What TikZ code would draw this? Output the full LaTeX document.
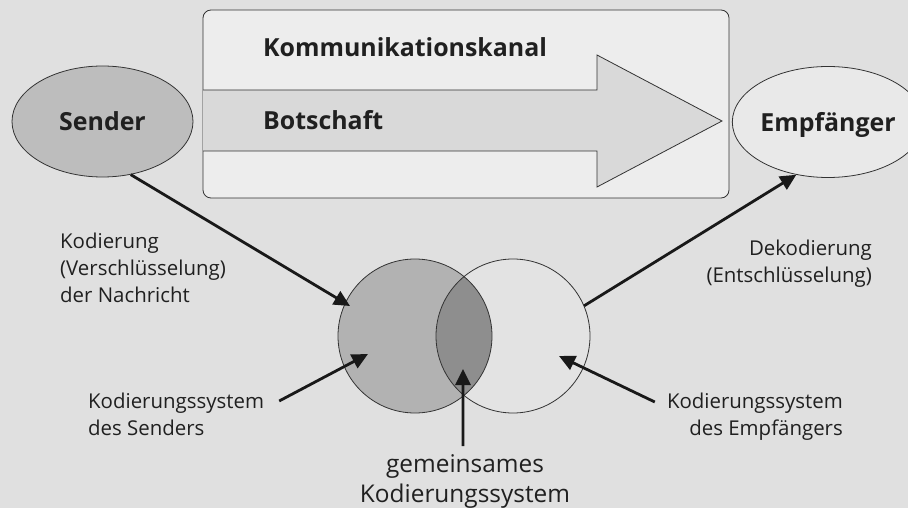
\documentclass[tikz,border=0pt]{standalone}
\usepackage{xcolor}
\usepackage{fontspec}
\setmainfont{Open Sans}
\usetikzlibrary{shapes.geometric,arrows.meta}

\definecolor{hintergrund}{RGB}{224,224,224}
\definecolor{kanalfarbe}{RGB}{237,237,237}
\definecolor{botschaftfarbe}{RGB}{217,217,217}
\definecolor{senderfarbe}{RGB}{189,189,189}
\definecolor{empffarbe}{RGB}{233,233,233}
\definecolor{systemS}{RGB}{178,178,178}
\definecolor{systemE}{RGB}{227,227,227}
\definecolor{schnitt}{RGB}{142,142,142}
\definecolor{schrift}{RGB}{32,32,32}

\begin{document}
\begin{tikzpicture}[x=1bp,y=-1bp,
  rand/.style={draw=black!80,line width=0.8bp},
  pfeil/.style={draw=black!90,line width=2.8bp,-{Triangle[length=16bp,width=15bp]}},
  fett/.style={font=\fontsize{25}{30}\selectfont\bfseries,text=schrift,inner sep=0pt},
  klein/.style={font=\fontsize{20.5}{27}\selectfont,text=schrift,inner sep=0pt},
  gross/.style={font=\fontsize{24.5}{30}\selectfont,text=schrift,inner sep=0pt},
  partner/.style={ellipse,rand,fett,minimum width=181bp,minimum height=111bp,text height=19bp,text depth=0pt}]

  \fill[hintergrund] (0,0) rectangle (908,508);
  \useasboundingbox (0,0) rectangle (908,508);

  % Kanal und Botschaft
  \filldraw[rand,fill=kanalfarbe,rounded corners=8bp] (203,10) rectangle (729,198);
  \filldraw[rand,fill=botschaftfarbe] (203,90) -- (597,90) -- (597,55) -- (722,121)
    -- (597,187) -- (597,151) -- (203,151);
  \node[fett,anchor=base west] (kanal) at (263,57) {Kommunikationskanal};
  \node[fett,anchor=base west] (botschaft) at (263,130) {Botschaft};

  \node[partner,fill=senderfarbe] (sender) at (102.5,121.5) {Sender};
  \node[partner,fill=empffarbe] (empf) at (828,122) {Empfänger};

  % Kodierungssysteme
  \node[circle,fill=systemS,minimum size=154bp,inner sep=0pt] (sysA) at (415,336) {};
  \node[circle,fill=systemE,minimum size=154bp,inner sep=0pt] (sysB) at (513,336) {};
  \begin{scope}
    \clip (sysA.center) circle (77);
    \fill[schnitt] (sysB.center) circle (77);
  \end{scope}
  \draw[rand] (sysA.center) circle (77);
  \draw[rand] (sysB.center) circle (77);

  \node[klein,anchor=north west,align=left] (kodierung) at (60,233)
    {Kodierung\\(Verschlüsselung)\\der Nachricht};
  \node[klein,anchor=north east,align=right] (dekodierung) at (872,240)
    {Dekodierung\\(Entschlüsselung)};
  \node[klein,anchor=north west,align=left] (sysS) at (88,393)
    {Kodierungssystem\\des Senders};
  \node[klein,anchor=north east,align=right] (sysE) at (843,393)
    {Kodierungssystem\\des Empfängers};
  \node[gross,anchor=north,align=center] (gem) at (465,454)
    {gemeinsames\\Kodierungssystem};

  \coordinate (zielA) at (350,306);
  \coordinate (zielS) at (368,354);
  \coordinate (zielE) at (559,356);
  \coordinate (zielG) at (463,369);

  \draw[pfeil] (sender.-62) -- (zielA);
  \draw[pfeil] (sysB.23) -- (empf.-121);
  \draw[pfeil] ([xshift=15bp,yshift=-8bp]sysS.north east) -- (zielS);
  \draw[pfeil] ([xshift=-12bp,yshift=-9bp]sysE.north west) -- (zielE);
  \draw[pfeil] ([xshift=-2bp,yshift=8bp]gem.north) -- (zielG);
\end{tikzpicture}
\end{document}
